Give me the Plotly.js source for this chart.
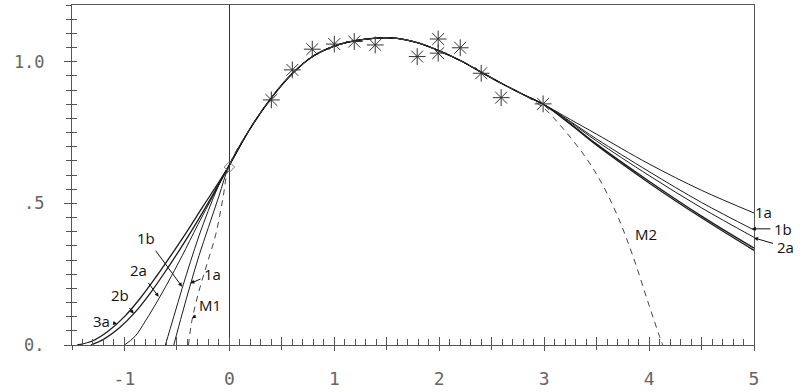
<!DOCTYPE html>
<html>
<head>
<meta charset="utf-8">
<script src="https://cdn.plot.ly/plotly-3.0.1.min.js"></script>
<style>html,body{margin:0;padding:0;background:#fff;}#chart{width:800px;height:392px;}</style>
</head>
<body>
<div id="chart"></div>
<script>
// Observed points (asterisks)
const obsX = [0.4, 0.6, 0.79, 1.0, 1.19, 1.39, 1.79, 1.99, 1.99, 2.2, 2.4, 2.59, 2.99];
const obsY = [0.865, 0.971, 1.044, 1.062, 1.071, 1.059, 1.018, 1.080, 1.030, 1.049, 0.959, 0.873, 0.851];
// Start point (diamond)
const startX = [0];
const startY = [0.628];

// Common middle part of the fitted curves
const midX = [0, 0.2, 0.4, 0.6, 0.8, 1.0, 1.2, 1.4, 1.6, 1.8, 2.0, 2.2, 2.4, 2.6, 2.8, 3.0];
const midY = [0.635, 0.765, 0.872, 0.958, 1.02, 1.055, 1.074, 1.083, 1.082, 1.066, 1.038, 1.004, 0.963, 0.922, 0.884, 0.848];

// Right-hand tails (x = 3.25 .. 5)
const rightX = [3.25, 3.5, 4.0, 4.5, 5.0];
const right1a = [0.796, 0.744, 0.639, 0.546, 0.466];
const right1b = [0.789, 0.727, 0.612, 0.503, 0.406];
const right2a = [0.786, 0.720, 0.598, 0.484, 0.380];
const right2b = [0.781, 0.709, 0.578, 0.455, 0.342];
const right3a = [0.779, 0.705, 0.572, 0.449, 0.334];

// Left-hand parts (x < 0)
const left3aX = [-1.45, -1.3, -1.15, -1.0, -0.85, -0.7, -0.55, -0.4, -0.25, -0.1];
const left3aY = [0.0, 0.015, 0.05, 0.1, 0.165, 0.24, 0.32, 0.403, 0.49, 0.575];
const left2bX = [-1.32, -1.2, -1.05, -0.9, -0.75, -0.6, -0.45, -0.3, -0.15];
const left2bY = [0.0, 0.02, 0.06, 0.115, 0.185, 0.265, 0.35, 0.44, 0.535];
const left2aX = [-1.0, -0.9, -0.8, -0.67, -0.55, -0.45, -0.3, -0.15];
const left2aY = [0.0, 0.03, 0.085, 0.165, 0.245, 0.315, 0.425, 0.53];
const left1bX = [-0.61, -0.53, -0.45, -0.37, -0.29, -0.2, -0.1];
const left1bY = [0.0, 0.1, 0.2, 0.295, 0.385, 0.475, 0.565];
const left1aX = [-0.53, -0.45, -0.37, -0.29, -0.2, -0.1];
const left1aY = [0.0, 0.11, 0.215, 0.315, 0.415, 0.525];
const m1X = [-0.39, -0.355, -0.29, -0.21, -0.13, -0.065];
const m1Y = [0.0, 0.09, 0.19, 0.29, 0.39, 0.51];
const m2X = [3.0, 3.2, 3.4, 3.55, 3.7, 3.84, 4.0, 4.1, 4.13];
const m2Y = [0.835, 0.755, 0.66, 0.57, 0.455, 0.32, 0.14, 0.03, 0.0];

// Tick labels
const xTickVals = [-1, 0, 1, 2, 3, 4, 5];
const xTickText = ['-1', '0', '1', '2', '3', '4', '5'];
const yTickVals = [0, 0.5, 1.0];
const yTickText = ['0.', '.5', '1.0'];

const lineCol = '#1c1c1c';
function curve(lx, ly, rx, ry, w) {
  return {
    x: lx.concat(midX, rx), y: ly.concat(midY, ry),
    type: 'scatter', mode: 'lines',
    line: {color: lineCol, width: w, shape: 'spline', smoothing: 1},
    hoverinfo: 'skip'
  };
}
const traces = [
  curve(left1aX, left1aY, rightX, right1a, 1),
  curve(left1bX, left1bY, rightX, right1b, 1),
  curve(left2aX, left2aY, rightX, right2a, 1),
  curve(left2bX, left2bY, rightX, right2b, 1.3),
  curve(left3aX, left3aY, rightX, right3a, 1.3),
  {x: m1X.concat(midX.slice(0, 10)), y: m1Y.concat(midY.slice(0, 10)), type: 'scatter', mode: 'lines',
   line: {color: '#444', width: 1, dash: '6px,5px', shape: 'spline', smoothing: 1}},
  {x: midX.slice(8, 15).concat(m2X), y: midY.slice(8, 15).concat(m2Y), type: 'scatter', mode: 'lines',
   line: {color: '#444', width: 1, dash: '6px,5px', shape: 'spline', smoothing: 1}},
  {x: obsX, y: obsY, type: 'scatter', mode: 'markers',
   marker: {symbol: 'asterisk-open', size: 14, color: '#333', line: {color: '#333', width: 1}}},
  {x: startX, y: startY, type: 'scatter', mode: 'markers',
   marker: {symbol: 'diamond-open', size: 8, color: '#777', line: {color: '#777', width: 1}}},
  {x: [], y: [], xaxis: 'x2', yaxis: 'y2', type: 'scatter', mode: 'markers'}
];

const axCol = '#555';
const tickFont = {family: 'DejaVu Sans Mono', size: 18, color: '#666'};
const annFont = {family: 'Open Sans', size: 15, color: '#111'};
function arr(text, x, y, ax, ay) {
  return {text: text, x: x, y: y, ax: ax, ay: ay, xref: 'x', yref: 'y', showarrow: true,
          arrowhead: 2, arrowsize: 0.8, arrowwidth: 1, arrowcolor: '#111', font: annFont, standoff: 0, startstandoff: 2};
}
const annotations = [
  arr('1b', -0.451, 0.206, -36, -49),
  arr('2a', -0.674, 0.17, -20, -27),
  arr('2b', -0.912, 0.11, -14, -19),
  arr('3a', -1.07, 0.075, -16, -3),
  arr('1a', -0.372, 0.218, 22, -9),
  arr('M1', -0.356, 0.094, 18, -13),
  arr('1b', 4.98, 0.41, 31, 0),
  arr('2a', 5.0, 0.378, 31, 9),
  {text: 'M2', x: 3.97, y: 0.392, xref: 'x', yref: 'y', showarrow: false, font: annFont},
  {text: '1a', x: 5.0, y: 0.468, xref: 'x', yref: 'y', xshift: 9, showarrow: false, font: annFont}
];

const layout = {
  width: 800, height: 392,
  margin: {l: 72, r: 46, t: 5, b: 47},
  paper_bgcolor: '#fff', plot_bgcolor: '#fff',
  showlegend: false,
  xaxis: {
    range: [-1.5, 5], showline: true, linecolor: axCol, linewidth: 1, mirror: true,
    showgrid: false, zeroline: true, zerolinecolor: '#333', zerolinewidth: 1,
    tickmode: 'array', tickvals: xTickVals, ticktext: xTickText,
    ticks: 'outside', ticklen: 5, tickcolor: axCol, tickwidth: 1,
    minor: {dtick: 0.5, tick0: 0, ticks: 'outside', ticklen: 4, tickcolor: axCol, showgrid: false},
    tickfont: tickFont, ticklabelstandoff: 12
  },
  yaxis: {
    range: [0, 1.2], showline: true, linecolor: axCol, linewidth: 1, mirror: true,
    showgrid: false, zeroline: false,
    tickmode: 'array', tickvals: yTickVals, ticktext: yTickText,
    ticks: 'outside', ticklen: 7, tickcolor: axCol, tickwidth: 1,
    minor: {dtick: 0.05, tick0: 0, ticks: 'outside', ticklen: 5, tickcolor: axCol, showgrid: false},
    tickfont: {family: 'DejaVu Sans Mono', size: 17, color: '#666'}, ticklabelstandoff: 16
  },
  xaxis2: {
    range: [-1.5, 5], overlaying: 'x', anchor: 'y2', side: 'bottom',
    showline: false, showgrid: false, zeroline: false, showticklabels: false,
    tickmode: 'linear', tick0: 0, dtick: 0.5, ticks: 'inside', ticklen: 8, tickcolor: axCol,
    minor: {dtick: 0.1, tick0: 0, ticks: 'inside', ticklen: 6, tickcolor: axCol, showgrid: false}
  },
  yaxis2: {
    range: [0, 1.2], overlaying: 'y', anchor: 'x2', side: 'left',
    showline: false, showgrid: false, zeroline: false, showticklabels: false,
    tickmode: 'linear', tick0: 0, dtick: 0.05, ticks: 'inside', ticklen: 5, tickcolor: axCol
  },
  annotations: annotations
};

Plotly.newPlot('chart', traces, layout, {staticPlot: true, displayModeBar: false});
</script>
</body>
</html>
